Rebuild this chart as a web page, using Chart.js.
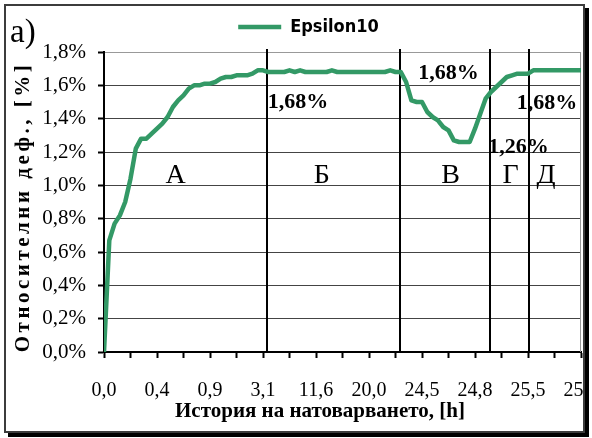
<!DOCTYPE html>
<html>
<head>
<meta charset="utf-8">
<script src="https://cdn.jsdelivr.net/npm/chart.js@4.4.0/dist/chart.umd.min.js"></script>
<style>
  body { margin: 0; background: #fff; }
  #frame { position: absolute; left: 4px; top: 4px; width: 577px; height: 425px;
           border: 2px solid #3c3c3c; box-shadow: 4px 4px 0 #000; overflow: hidden; background: #fff; }
  canvas { display: block; }
</style>
</head>
<body>
<div id="frame"><canvas id="chart" width="577" height="425"></canvas></div>
<script>
// time labels shown under every 10th sample
const timeLabels = ['0,0', '0,4', '0,9', '3,1', '11,6', '20,0', '24,5', '24,8', '25,5', '25,8'];

// relative deformation, %, one value per sample (91 samples)
const epsilon10 = [
  0.00, 0.67, 0.77, 0.82, 0.90, 1.04, 1.22, 1.28, 1.28, 1.31,
  1.34, 1.37, 1.41, 1.47, 1.51, 1.54, 1.58, 1.60, 1.60, 1.61,
  1.61, 1.62, 1.64, 1.65, 1.65, 1.66, 1.66, 1.66, 1.67, 1.69,
  1.69, 1.68, 1.68, 1.68, 1.68, 1.69, 1.68, 1.69, 1.68, 1.68,
  1.68, 1.68, 1.68, 1.69, 1.68, 1.68, 1.68, 1.68, 1.68, 1.68,
  1.68, 1.68, 1.68, 1.68, 1.69, 1.68, 1.68, 1.62, 1.51, 1.50,
  1.50, 1.44, 1.41, 1.39, 1.35, 1.33, 1.27, 1.26, 1.26, 1.26,
  1.34, 1.43, 1.52, 1.56, 1.59, 1.62, 1.65, 1.66, 1.67, 1.67,
  1.67, 1.69, 1.69, 1.69, 1.69, 1.69, 1.69, 1.69, 1.69, 1.69,
  1.69
];

// loading phases: boundaries (sample units) and names
const phaseBounds = [30.7, 55.9, 72.8, 80.1];
const phaseNames = ['А', 'Б', 'В', 'Г', 'Д'];
const phaseNameX = [13.5, 41.1, 65.4, 76.7, 83.4];
const phaseNameY = 1.06;

// value notes
const noteText = ['1,68%', '1,68%', '1,68%', '1,26%'];
const noteX = [36.6, 65.0, 83.6, 78.2];
const noteY = [1.50, 1.674, 1.494, 1.23];

const xTitle = 'История на натоварването, [h]';
const yTitle = 'Относителни деф., [%]';

const serif = "'Liberation Serif', 'Times New Roman', serif";
const narrow = "'Liberation Sans Narrow', 'Arial Narrow', 'DejaVu Sans Condensed', sans-serif";

const overlay = {
  id: 'overlay',
  afterLayout(chart) {
    // pull the legend up a little, closer to the frame
    chart.legend.top -= 6;
    chart.legend.bottom -= 6;
  },
  beforeDatasetsDraw(chart) {
    const {ctx, chartArea: a, scales: {x}} = chart;
    ctx.save();
    ctx.strokeStyle = '#999';
    ctx.lineWidth = 1;
    ctx.beginPath();
    ctx.moveTo(a.right - 0.5, a.top);
    ctx.lineTo(a.right - 0.5, a.bottom);
    ctx.stroke();
    ctx.strokeStyle = '#000';
    ctx.lineWidth = 2;
    phaseBounds.forEach(b => {
      const px = Math.round(x.getPixelForValue(b));
      ctx.beginPath();
      ctx.moveTo(px, a.top - 3);
      ctx.lineTo(px, a.bottom);
      ctx.stroke();
    });
    ctx.restore();
  },
  afterDatasetsDraw(chart) {
    const {ctx, scales: {x, y}} = chart;
    ctx.save();
    ctx.fillStyle = '#000';
    ctx.textAlign = 'center';
    ctx.textBaseline = 'middle';
    ctx.font = '28px ' + serif;
    phaseNames.forEach((n, i) => ctx.fillText(n, x.getPixelForValue(phaseNameX[i]), y.getPixelForValue(phaseNameY)));
    ctx.font = 'bold 22px ' + serif;
    noteText.forEach((t, i) => ctx.fillText(t, x.getPixelForValue(noteX[i]), y.getPixelForValue(noteY[i])));
    ctx.restore();
  },
  afterDraw(chart) {
    const {ctx, chartArea: a} = chart;
    ctx.save();
    ctx.fillStyle = '#000';
    ctx.font = '33px ' + serif;
    ctx.textAlign = 'left';
    ctx.textBaseline = 'alphabetic';
    ctx.fillText('a)', 4, 36);
    ctx.font = 'bold 21px ' + serif;
    ctx.textAlign = 'center';
    ctx.textBaseline = 'middle';
    ctx.fillText(xTitle, 314, a.bottom + 60);
    ctx.translate(18, (a.top + a.bottom) / 2 + 5);
    ctx.rotate(-Math.PI / 2);
    ctx.letterSpacing = '3.5px';
    ctx.fillText(yTitle, 0, 0);
    ctx.restore();
  }
};

new Chart(document.getElementById('chart'), {
  type: 'line',
  data: {
    datasets: [{
      label: 'Epsilon10',
      data: epsilon10.map((v, i) => ({x: i, y: v})),
      borderColor: '#339966',
      backgroundColor: '#339966',
      borderWidth: 4.5,
      borderCapStyle: 'round',
      borderJoinStyle: 'round',
      pointRadius: 0,
      tension: 0
    }]
  },
  options: {
    responsive: false,
    animation: false,
    devicePixelRatio: 1,
    layout: {padding: {left: 30, right: 2, top: -8, bottom: 7}},
    plugins: {
      tooltip: {enabled: false},
      legend: {
        position: 'top',
        labels: {
          usePointStyle: true,
          pointStyle: 'line',
          pointStyleWidth: 43,
          color: '#000',
          font: {family: narrow, size: 18, weight: 'bold'},
          padding: 19
        }
      }
    },
    scales: {
      x: {
        type: 'linear',
        min: 0,
        max: 90,
        ticks: {
          stepSize: 5,
          autoSkip: false,
          maxRotation: 0,
          minRotation: 0,
          color: '#000',
          font: {family: serif, size: 20},
          padding: 21,
          callback: v => v % 10 === 0 ? timeLabels[v / 10] : ''
        },
        grid: {drawOnChartArea: false, tickLength: 6, tickColor: '#000', tickWidth: 2},
        border: {color: '#000', width: 2},
        afterFit: s => { s.paddingLeft = 0; s.paddingRight = 0; s.height = 72; }
      },
      y: {
        min: 0,
        max: 1.8,
        ticks: {
          stepSize: 0.2,
          color: '#000',
          font: {family: serif, size: 21},
          padding: 12,
          callback: v => v.toFixed(1).replace('.', ',') + '%'
        },
        grid: {
          color: c => (c.tick && c.tick.value > 1.79) ? '#999' : '#444',
          lineWidth: 1,
          tickLength: 6,
          tickColor: '#000',
          tickWidth: 2
        },
        border: {color: '#000', width: 2},
        afterFit: s => { s.width = 68; s.paddingTop = 46; }
      }
    }
  },
  plugins: [overlay]
});
</script>
</body>
</html>
